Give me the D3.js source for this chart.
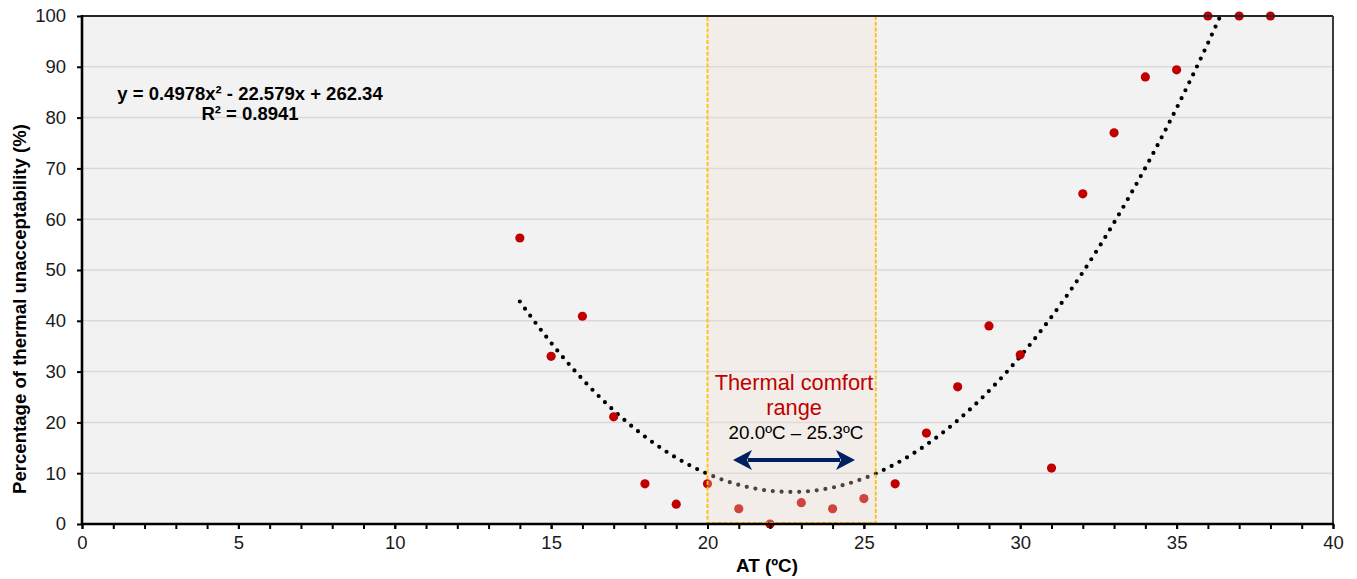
<!DOCTYPE html>
<html>
<head>
<meta charset="utf-8">
<script src="https://cdn.jsdelivr.net/npm/d3@7"></script>
<style>
  html, body { margin: 0; padding: 0; background: #ffffff; }
  svg { display: block; font-family: "Liberation Sans", Arial, sans-serif; }
</style>
</head>
<body>
<svg id="chart" width="1357" height="579"></svg>
<script>
// ---- data ----
const atValues = [14, 15, 16, 17, 18, 19, 20, 21, 22, 23, 24, 25, 26, 27, 28, 29, 30, 31, 32, 33, 34, 35, 36, 37, 38];
const unacceptability = [56.3, 33.0, 40.9, 21.1, 7.9, 3.9, 7.9, 3.0, 0, 4.2, 3.0, 5.0, 7.9, 17.9, 27.0, 39.0, 33.3, 11.0, 65.0, 77.0, 88.0, 89.4, 100, 100, 100];
const trendCoefficients = [0.4978, -22.579, 262.34]; // a, b, c  (y = a x^2 + b x + c)
const trendRange = [14, 36.4];
const comfortRect = [20.0, 25.38];
const xTicks = [0, 5, 10, 15, 20, 25, 30, 35, 40];
const xMinorTicks = d3.range(0, 41, 1);
const yTicks = [0, 10, 20, 30, 40, 50, 60, 70, 80, 90, 100];
const equationLines = ["y = 0.4978x\u00B2 - 22.579x + 262.34", "R\u00B2 = 0.8941"];
const comfortLabelLines = ["Thermal comfort", "range"];
const comfortRangeText = "20.0\u00BAC \u2013 25.3\u00BAC";
const xTitle = "AT (\u00BAC)";
const yTitle = "Percentage of thermal unacceptability (%)";

// ---- layout ----
const W = 1357, H = 579;
const m = { left: 82, right: 24, top: 16, bottom: 55 };
const svg = d3.select("#chart");

const x = d3.scaleLinear().domain([0, 40]).range([m.left, W - m.right]);
const y = d3.scaleLinear().domain([0, 100]).range([H - m.bottom, m.top]);

// plot background
svg.append("rect")
  .attr("x", x(0)).attr("y", y(100))
  .attr("width", x(40) - x(0)).attr("height", y(0) - y(100))
  .attr("fill", "#f2f2f2");

// gridlines
svg.append("g").selectAll("line").data(yTicks.filter(d => d > 0 && d < 100)).join("line")
  .attr("x1", x(0)).attr("x2", x(40))
  .attr("y1", d => y(d)).attr("y2", d => y(d))
  .attr("stroke", "#d9d9d9").attr("stroke-width", 1.5);

// clip for trendline
svg.append("clipPath").attr("id", "plotclip").append("rect")
  .attr("x", x(0)).attr("y", y(100))
  .attr("width", x(40) - x(0)).attr("height", y(0) - y(100));

// trendline (from fitted polynomial)
const [a, b, c] = trendCoefficients;
const trendPts = d3.range(trendRange[0], trendRange[1] + 0.0001, 0.05).map(t => [t, a * t * t + b * t + c]);
svg.append("path")
  .datum(trendPts)
  .attr("clip-path", "url(#plotclip)")
  .attr("d", d3.line().x(d => x(d[0])).y(d => y(d[1])))
  .attr("fill", "none")
  .attr("stroke", "#000000")
  .attr("stroke-width", 4.2)
  .attr("stroke-linecap", "round")
  .attr("stroke-dasharray", "0 8.8");

// data points
svg.append("g").selectAll("circle").data(atValues).join("circle")
  .attr("cx", d => x(d))
  .attr("cy", (d, i) => y(unacceptability[i]))
  .attr("r", 4.6)
  .attr("fill", "#c00000");

// comfort range rectangle (over points, semi-transparent)
svg.append("rect")
  .attr("x", x(comfortRect[0])).attr("y", y(100))
  .attr("width", x(comfortRect[1]) - x(comfortRect[0]))
  .attr("height", y(0) - y(100) - 1)
  .attr("fill", "rgb(243,225,208)")
  .attr("fill-opacity", 0.3)
  .attr("stroke", "#ffc000")
  .attr("stroke-width", 1.8)
  .attr("stroke-dasharray", "4 1.8");

// axes
const xAxisMinor = d3.axisBottom(x).tickValues(xMinorTicks).tickSize(5).tickFormat("");
svg.append("g").attr("transform", `translate(0,${y(0)})`).call(xAxisMinor)
  .call(g => g.select(".domain").remove())
  .call(g => g.selectAll("line").attr("stroke", "#000").attr("stroke-width", 2));

const xAxis = d3.axisBottom(x).tickValues(xTicks).tickSize(5).tickFormat(d3.format("d"));
svg.append("g").attr("transform", `translate(0,${y(0)})`).call(xAxis)
  .call(g => g.select(".domain").remove())
  .call(g => g.selectAll("line").attr("stroke", "#000").attr("stroke-width", 2))
  .call(g => g.selectAll("text").attr("font-size", "18.5px").attr("fill", "#1a1a1a")
    .attr("font-family", "Liberation Sans, Arial, sans-serif").attr("y", 12));

const yAxis = d3.axisLeft(y).tickValues(yTicks).tickSize(5).tickFormat(d3.format("d"));
svg.append("g").attr("transform", `translate(${x(0)},0)`).call(yAxis)
  .call(g => g.select(".domain").remove())
  .call(g => g.selectAll("line").attr("stroke", "#000").attr("stroke-width", 2))
  .call(g => g.selectAll("text").attr("font-size", "18.5px").attr("fill", "#1a1a1a")
    .attr("font-family", "Liberation Sans, Arial, sans-serif").attr("x", -16));

// frame: top/right thinner, left/bottom thick
svg.append("line").attr("x1", x(0)).attr("x2", x(40)).attr("y1", y(100)).attr("y2", y(100))
  .attr("stroke", "#262626").attr("stroke-width", 1.8);
svg.append("line").attr("x1", x(40)).attr("x2", x(40)).attr("y1", y(100)).attr("y2", y(0))
  .attr("stroke", "#262626").attr("stroke-width", 1.8);
svg.append("line").attr("x1", x(0)).attr("x2", x(0)).attr("y1", y(100) - 1).attr("y2", y(0) + 1)
  .attr("stroke", "#000").attr("stroke-width", 2.6);
svg.append("line").attr("x1", x(0) - 1).attr("x2", x(40) + 1).attr("y1", y(0)).attr("y2", y(0))
  .attr("stroke", "#000").attr("stroke-width", 2.6);

// equation
svg.append("g").selectAll("text").data(equationLines).join("text")
  .attr("x", 250).attr("y", (d, i) => 100 + i * 20)
  .attr("text-anchor", "middle")
  .attr("font-size", "18.5px").attr("font-weight", "bold").attr("fill", "#000")
  .text(d => d);

// comfort annotation
svg.append("g").selectAll("text").data(comfortLabelLines).join("text")
  .attr("x", 794).attr("y", (d, i) => 390 + i * 25)
  .attr("text-anchor", "middle")
  .attr("font-size", "21.8px").attr("fill", "#c00000")
  .text(d => d);
svg.append("text")
  .attr("x", 796).attr("y", 439)
  .attr("text-anchor", "middle")
  .attr("font-size", "18.8px").attr("fill", "#000")
  .text(comfortRangeText);

// double-headed arrow
const ax1 = 733, ax2 = 855, ay = 460, hl = 19, hw = 10;
svg.append("line").attr("x1", ax1 + hl - 4).attr("x2", ax2 - hl + 4).attr("y1", ay).attr("y2", ay)
  .attr("stroke", "#002060").attr("stroke-width", 4);
svg.append("path")
  .attr("d", `M${ax1},${ay} L${ax1 + hl},${ay - hw} L${ax1 + hl - 5},${ay} L${ax1 + hl},${ay + hw} Z`)
  .attr("fill", "#002060");
svg.append("path")
  .attr("d", `M${ax2},${ay} L${ax2 - hl},${ay - hw} L${ax2 - hl + 5},${ay} L${ax2 - hl},${ay + hw} Z`)
  .attr("fill", "#002060");

// axis titles
svg.append("text")
  .attr("x", 767).attr("y", 572)
  .attr("text-anchor", "middle")
  .attr("font-size", "18.8px").attr("font-weight", "bold").attr("fill", "#000")
  .text(xTitle);
svg.append("text")
  .attr("transform", "translate(25.5,309) rotate(-90)")
  .attr("text-anchor", "middle")
  .attr("font-size", "18.6px").attr("font-weight", "bold").attr("fill", "#000")
  .text(yTitle);
</script>
</body>
</html>
